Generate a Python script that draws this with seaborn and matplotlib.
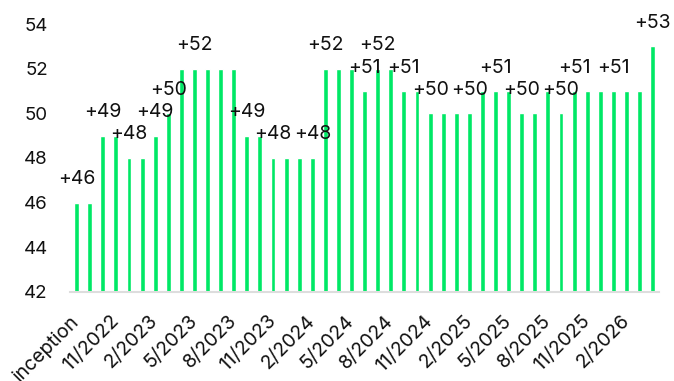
import matplotlib
matplotlib.use("Agg")

import pandas as pd
import matplotlib.pyplot as plt
import seaborn as sns

# monthly values, first bar is the inception month (8/2022)
values = [46, 46, 49, 49, 48, 48, 49, 50, 52, 52,
          52, 52, 52, 49, 49, 48, 48, 48, 48, 52,
          52, 52, 51, 52, 52, 51, 51, 50, 50, 50,
          50, 51, 51, 51, 50, 50, 51, 50, 51, 51,
          51, 51, 51, 51, 53]
months = ["inception"] + [p.strftime("%-m/%Y") for p in pd.period_range("2022-09", periods=44, freq="M")]
# bars that carry a value label (0-based)
labelled = [0, 2, 4, 6, 7, 9, 13, 15, 18, 19, 22, 23, 25, 27, 30, 32, 34, 37, 38, 41, 44]
tick_every = 3

sns.set_theme(style="white")
plt.rcParams["font.family"] = ["Inter", "DejaVu Sans"]

df = pd.DataFrame({"month": months, "value": values})

fig = plt.figure(figsize=(6.74, 3.81), dpi=100)
ax = fig.add_axes([0.104, 0.234, 0.874, 0.703])

sns.barplot(data=df, x="month", y="value", color="#00E865", saturation=1,
            width=0.38, ax=ax)

for i in labelled:
    ax.text(i, values[i] + 1.05, f"+{values[i]}", ha="center", va="center",
            fontsize=14, color="#111111")

ax.set_ylim(42, 54)
ax.set_yticks(range(42, 55, 2))
ax.set_xticks(range(0, len(months), tick_every))
ax.set_xticklabels(months[::tick_every], rotation=45, ha="right",
                   va="center", rotation_mode="anchor")
ax.set_xlabel("")
ax.set_ylabel("")
ax.tick_params(axis="both", length=0, colors="#111111")
ax.tick_params(axis="y", pad=16, labelsize=13.5)
ax.tick_params(axis="x", pad=19, labelsize=14)

for side in ["top", "right", "left"]:
    ax.spines[side].set_visible(False)
ax.spines["bottom"].set_color("#dddddd")
ax.spines["bottom"].set_linewidth(1.5)

fig.savefig("out.png", dpi=100)
